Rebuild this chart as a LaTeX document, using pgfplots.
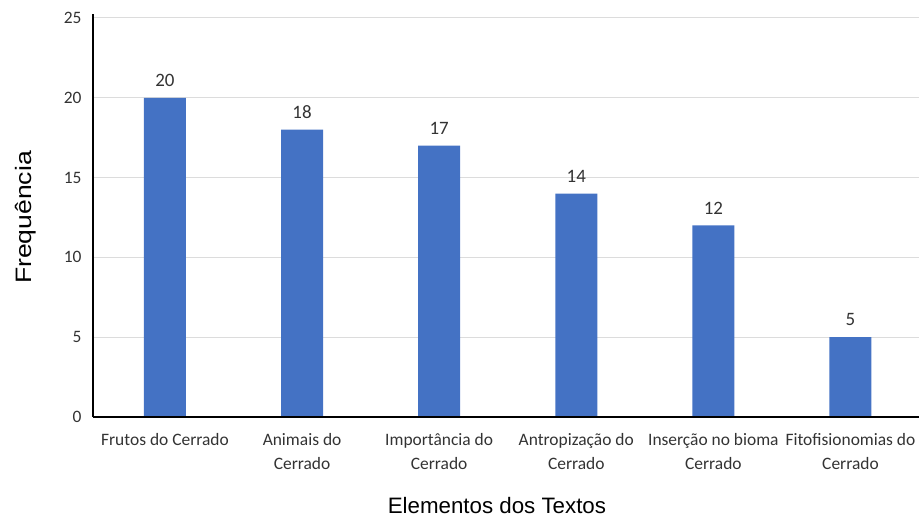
\documentclass[border=0pt]{standalone}
\usepackage{graphicx}
\usepackage{fontspec}
\setmainfont{Carlito}
\newfontfamily\arialfont{Liberation Sans}
\usepackage{pgfplots}
\pgfplotsset{compat=1.18}
\definecolor{barblue}{HTML}{4472C4}
\definecolor{gridgray}{HTML}{DCDCDC}
\begin{document}
\begin{tikzpicture}
\useasboundingbox (-93bp,-100bp) rectangle (826bp,417bp);
\begin{axis}[
  at={(0,0)}, anchor=south west,
  scale only axis,
  width=826bp, height=399bp,
  xmin=-0.525, xmax=5.5,
  ymin=0, ymax=25,
  ytick={0,5,10,15,20,25},
  xtick={0,1,2,3,4,5},
  xticklabels={Frutos do Cerrado,Animais do\\Cerrado,Importância do\\Cerrado,Antropização do\\Cerrado,Inserção no bioma\\Cerrado,Fitofisionomias do\\Cerrado},
  x tick label style={align=center, font=\fontsize{17.5}{24}\selectfont, text=black!80, yshift=-13bp},
  y tick label style={font=\fontsize{17.5}{21}\selectfont, text=black!80, xshift=-8bp},
  /pgf/number format/assume math mode=true,
  major tick length=0,
  axis line style={draw=none},
  ymajorgrids,
  grid style={gridgray, line width=1bp},
  xlabel={Elementos dos Textos},
  ylabel={\scalebox{1.19}[1]{Frequência}},
  xlabel style={font=\arialfont\fontsize{22.4}{26}\selectfont, at={(axis description cs:0.489,-0.222)}, anchor=center},
  ylabel style={font=\arialfont\fontsize{22.4}{26}\selectfont, at={(axis description cs:-0.082,0.5)}, anchor=center},
  clip=false,
]
\addplot[ybar, bar width=42bp, fill=barblue, draw=none,
  nodes near coords,
  nodes near coords style={anchor=south, inner sep=0pt, yshift=11bp, font=\fontsize{19}{22}\selectfont, text=black!80},
  /pgf/number format/assume math mode=true]
  coordinates {(0,20) (1,18) (2,17) (3,14) (4,12) (5,5)};
\draw[black, line width=1.6bp] (rel axis cs:0,0) -- (rel axis cs:1,0);
\draw[black, line width=1.6bp] (rel axis cs:0,0) -- (rel axis cs:0,1.01);
\end{axis}
\end{tikzpicture}
\end{document}
